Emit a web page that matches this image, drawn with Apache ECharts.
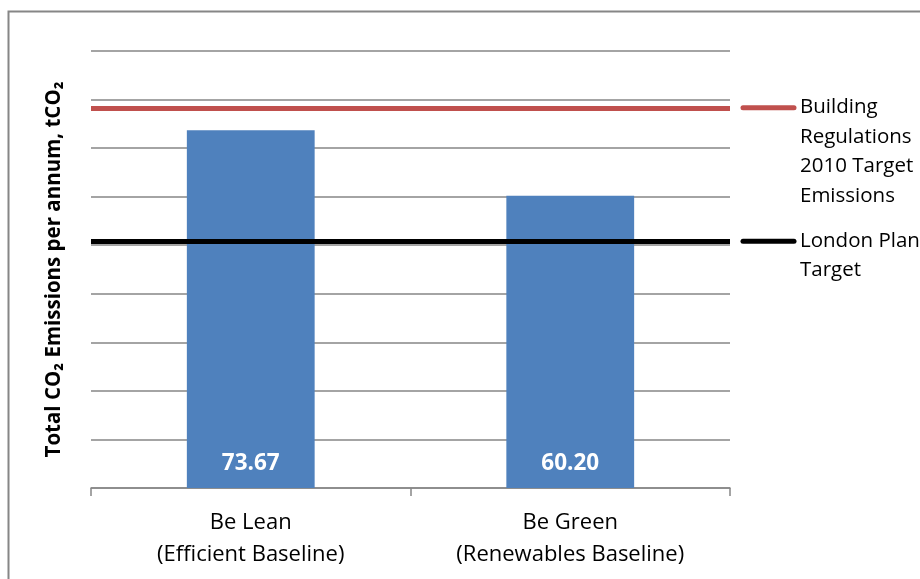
<!DOCTYPE html>
<html>
<head>
<meta charset="utf-8">
<script src="https://cdn.jsdelivr.net/npm/echarts@6/dist/echarts.min.js"></script>
<style>
  html, body { margin: 0; padding: 0; background: #fff; }
  #chart { width: 920px; height: 579px; }
</style>
</head>
<body>
<div id="chart"></div>
<script>
// Scenario categories and annual CO2 emissions (tCO2)
const categories = ['Be Lean\n(Efficient Baseline)', 'Be Green\n(Renewables Baseline)'];
const emissions = [73.67, 60.20];

// Target levels (tCO2 per annum)
const targetNames = ['Building Regulations 2010 Target Emissions', 'London Plan Target'];
const targetLegendText = ['Building\nRegulations\n2010 Target\nEmissions', 'London Plan\nTarget'];
const targetValues = [78.3, 50.8];
const targetColors = ['#C0504D', '#000000'];

// Value axis range
const yMin = 0, yMax = 90, yStep = 10;

const FONT = 'Open Sans, Noto Sans, sans-serif';
const chart = echarts.init(document.getElementById('chart'), null, { renderer: 'canvas' });

const gridLeft = 91, gridRight = 190, gridTop = 51, gridBottom = 91;

// Legend entries drawn beside the plot, each aligned with its target line
function legendGraphics() {
  const items = [];
  targetValues.forEach((v, i) => {
    const y = chart.convertToPixel({ yAxisIndex: 0 }, v);
    items.push({
      type: 'line',
      shape: { x1: 743, y1: y, x2: 794, y2: y },
      style: { stroke: targetColors[i], lineWidth: 5, lineCap: 'round' }
    });
    items.push({
      type: 'text',
      x: 800,
      y: y - 15,
      style: {
        text: targetLegendText[i],
        font: '20.5px ' + FONT,
        fill: '#000',
        lineHeight: 29.5,
        verticalAlign: 'top',
        align: 'left'
      }
    });
  });
  return items;
}

chart.setOption({
  animation: false,
  grid: { left: gridLeft, right: gridRight, top: gridTop, bottom: gridBottom },
  xAxis: {
    type: 'category',
    data: categories,
    axisLine: { lineStyle: { color: '#868686', width: 1.5 } },
    axisTick: { show: true, length: 8, alignWithLabel: false, lineStyle: { color: '#868686', width: 1.5 } },
    axisLabel: { color: '#000', fontFamily: FONT, fontSize: 22, lineHeight: 32, margin: 19 }
  },
  yAxis: {
    type: 'value',
    min: yMin, max: yMax, interval: yStep,
    name: 'Total CO\u2082 Emissions per annum, tCO\u2082',
    nameLocation: 'middle',
    nameGap: 26,
    nameTextStyle: { color: '#000', fontFamily: FONT, fontSize: 20.5, fontWeight: 'bold' },
    axisLine: { show: false },
    axisTick: { show: false },
    axisLabel: { show: false },
    splitLine: { lineStyle: { color: '#868686', width: 1.5 } }
  },
  series: [
    {
      name: 'Emissions',
      type: 'bar',
      data: emissions,
      barWidth: '40%',
      itemStyle: { color: '#4F81BD' },
      label: {
        show: true,
        position: 'insideBottom',
        distance: 13,
        color: '#fff',
        fontFamily: FONT,
        fontSize: 22.5,
        fontWeight: 'bold',
        formatter: p => p.value.toFixed(2)
      },
      z: 2
    },
    ...targetValues.map((v, i) => ({
      name: targetNames[i],
      type: 'line',
      data: [],
      z: 3,
      markLine: {
        silent: true,
        symbol: ['none', 'none'],
        label: { show: false },
        lineStyle: { color: targetColors[i], width: 5, type: 'solid' },
        data: [{ yAxis: v }]
      }
    }))
  ]
});

chart.setOption({
  graphic: [
    {
      type: 'rect',
      shape: { x: 8.5, y: 11.5, width: 1000, height: 700 },
      style: { fill: 'none', stroke: '#868686', lineWidth: 2 },
      silent: true
    },
    ...legendGraphics()
  ]
});
</script>
</body>
</html>
